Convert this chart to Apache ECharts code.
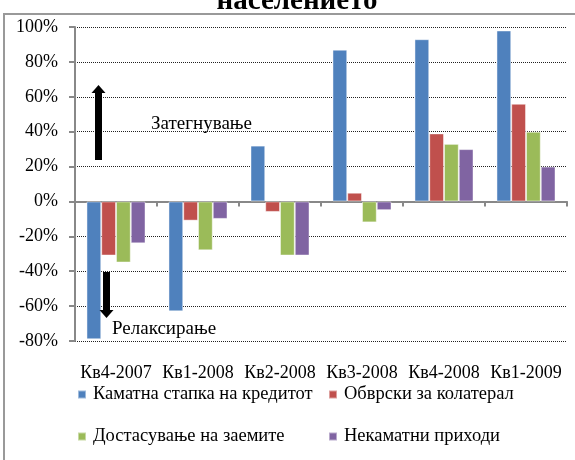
<!DOCTYPE html>
<html>
<head>
<meta charset="utf-8">
<script src="https://cdn.jsdelivr.net/npm/echarts@6/dist/echarts.min.js"></script>
<style>
	html, body {margin:0; padding:0; background:#fff;}
	#main {width:575px; height:460px;}
</style>
</head>
<body>
<div id="main"></div>
<script>
// податоци
var kvartali = ['Кв4-2007', 'Кв1-2008', 'Кв2-2008', 'Кв3-2008', 'Кв4-2008', 'Кв1-2009'];
var kamatnaStapka = [-79, -63, 32, 87, 93, 98];
var obvrskiKolateral = [-31, -11, -6, 5, 39, 56];
var dostasuvanje = [-35, -28, -31, -12, 33, 40];
var nekamatniPrihodi = [-24, -10, -31, -5, 30, 20];
var iminja = ['Каматна стапка на кредитот', 'Обврски за колатерал', 'Достасување на заемите', 'Некаматни приходи'];
var boi = ['#4F81BD', '#C0504D', '#9BBB59', '#8064A2'];

var serif = '"Liberation Serif", "DejaVu Serif", serif';
var myChart = echarts.init(document.getElementById('main'));

function serija(ime, podatoci, boja){
	return {
		name: ime,
		type: 'bar',
		xAxisIndex: 0,
		data: podatoci,
		barGap: '0%',
		barCategoryGap: '28%',
		itemStyle: {color: boja, borderColor: 'rgba(255,255,255,0.45)', borderWidth: 1}
	};
}

function legenda(ime, left, top){
	return {
		data: [ime],
		left: left,
		top: top,
		icon: 'rect',
		itemWidth: 8,
		itemHeight: 8,
		itemGap: 0,
		padding: 0,
		selectedMode: false,
		textStyle: {fontFamily: serif, fontSize: 18.5, color: '#000', padding: [0, 0, 0, 2]}
	};
}

myChart.setOption({
	animation: false,
	backgroundColor: '#fff',
	grid: {left: 75, right: 8, top: 27, bottom: 119},
	legend: [
		legenda(iminja[0], 77, 385),
		legenda(iminja[1], 328, 385),
		legenda(iminja[2], 77, 427),
		legenda(iminja[3], 328, 427)
	],
	xAxis: [
		{
			type: 'category',
			data: kvartali,
			axisLine: {onZero: true, lineStyle: {color: '#888', width: 2}},
			axisTick: {show: true, length: 5, lineStyle: {color: '#888', width: 2}},
			axisLabel: {show: false},
			splitLine: {show: false}
		},
		{
			type: 'category',
			data: kvartali,
			position: 'bottom',
			axisLine: {show: false},
			axisTick: {show: false},
			axisLabel: {interval: 0, margin: 23, fontFamily: serif, fontSize: 18, color: '#000'}
		}
	],
	yAxis: {
		type: 'value',
		min: -80,
		max: 100,
		interval: 20,
		axisLine: {show: true, lineStyle: {color: '#888', width: 2}},
		axisTick: {show: true, length: 6, lineStyle: {color: '#888', width: 2}},
		axisLabel: {margin: 17, formatter: '{value}%', fontFamily: serif, fontSize: 18, color: '#000'},
		splitLine: {show: true, lineStyle: {type: 'dotted', color: '#222', width: 1}}
	},
	graphic: [
		{type: 'rect', z: 0, shape: {x: 4, y: 14, width: 700, height: 600}, style: {fill: null, stroke: '#999', lineWidth: 2}},
		{type: 'text', z: 10, style: {text: 'населението', x: 297, y: 16, align: 'center', verticalAlign: 'bottom', font: 'bold 29px ' + serif, fill: '#000'}},
		// стрелка нагоре
		{type: 'polygon', z: 10, shape: {points: [[95, 160], [102, 160], [102, 93], [105.5, 93], [98.5, 85], [91.5, 93], [95, 93]]}, style: {fill: '#000'}},
		{type: 'text', z: 10, style: {text: 'Затегнување', x: 151, y: 124, verticalAlign: 'middle', font: '19px ' + serif, fill: '#000'}},
		// стрелка надолу
		{type: 'polygon', z: 10, shape: {points: [[103, 272], [110, 272], [110, 310], [113.5, 310], [106.5, 318], [99.5, 310], [103, 310]]}, style: {fill: '#000'}},
		{type: 'text', z: 10, style: {text: 'Релаксирање', x: 112, y: 329, verticalAlign: 'middle', font: '19px ' + serif, fill: '#000'}}
	],
	series: [
		serija(iminja[0], kamatnaStapka, boi[0]),
		serija(iminja[1], obvrskiKolateral, boi[1]),
		serija(iminja[2], dostasuvanje, boi[2]),
		serija(iminja[3], nekamatniPrihodi, boi[3])
	]
});
</script>
</body>
</html>
